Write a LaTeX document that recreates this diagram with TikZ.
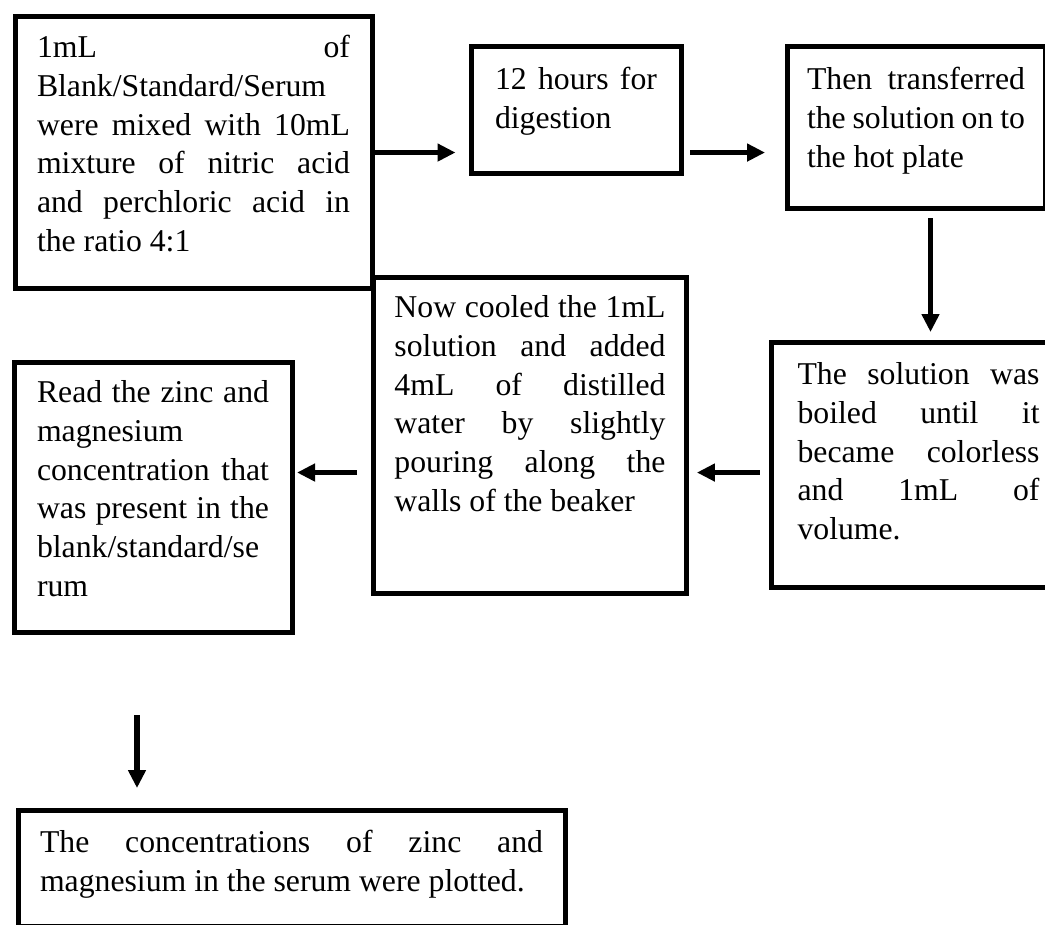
\documentclass[tikz,border=0pt]{standalone}
\usepackage{fontspec}
\setmainfont{Liberation Serif}
\usepackage{tikz}
\usetikzlibrary{arrows.meta,calc}
\newlength{\unitpx}
\setlength{\unitpx}{0.75pt}

\begin{document}
\begin{tikzpicture}[x=\unitpx,y=-\unitpx,
  stepbox/.style={draw,line width=3.75pt,anchor=north west,inner ysep=0pt,
    align=justify,font=\fontsize{23.8}{29.1}\selectfont},
  flow/.style={-{Triangle[length=13.5pt,width=12.75pt]},line width=4.1pt}]
  \useasboundingbox (0,0) rectangle (1045,924);
  \clip (0,0) rectangle (1045,924);
  \node[stepbox,text width=234.75pt,inner xsep=16.5pt,text height=30.4pt,text depth=172.9pt]
    (mix) at (12.5,14.5) {1mL of\linebreak Blank/Standard/Serum\\ were mixed with 10mL\linebreak mixture of nitric acid\linebreak and perchloric acid in\linebreak the ratio 4:1};
  \node[stepbox,text width=121.5pt,inner xsep=18pt,text height=31.9pt,text depth=62.6pt]
    (digest) at (468.5,44.5) {12 hours for\linebreak digestion};
  \node[stepbox,text width=163.5pt,inner xsep=15pt,text height=32.25pt,text depth=88.9pt]
    (hotplate) at (784.5,44) {Then transferred\linebreak the solution on to\linebreak the hot plate};
  \node[stepbox,text width=181.5pt,inner xsep=19.9pt,text height=31.9pt,text depth=151.9pt]
    (boil) at (768.5,339.5) {The solution was\linebreak boiled until it\linebreak became colorless\linebreak and 1mL of\linebreak volume.};
  \node[stepbox,text width=203.25pt,inner xsep=16.1pt,text height=30.4pt,text depth=206.6pt]
    (cool) at (370.5,274.5) {Now cooled the 1mL\linebreak solution and added\linebreak 4mL of distilled\linebreak water by slightly\linebreak pouring along the\linebreak walls of the beaker};
  \node[stepbox,text width=174pt,inner xsep=17.25pt,text height=30.4pt,text depth=172.1pt]
    (read) at (11.5,359.5) {Read the zinc and\linebreak magnesium\\ concentration that\linebreak was present in the\linebreak blank/standard/se\\ rum};
  \node[stepbox,text width=377.25pt,inner xsep=16.5pt,text height=31.9pt,text depth=55.5pt]
    (plot) at (15.5,807.5) {The concentrations of zinc and\linebreak magnesium in the serum were plotted.};

  \coordinate (down) at ($(hotplate.south)+(14.5,0)$);
  \coordinate (back) at ($(boil.west)+(0,8)$);
  \coordinate (last) at (137,715);

  \draw[flow,shorten >=9.75pt] (mix.east) -- (mix.east -| digest.west);
  \draw[flow,shorten <=4.9pt,shorten >=14.6pt] (digest.east |- mix.east) -- (hotplate.west |- mix.east);
  \draw[flow,shorten <=5.6pt,shorten >=5.6pt] (down) -- (down |- boil.north);
  \draw[flow,shorten <=6.4pt,shorten >=5.6pt] (back) -- (back -| cool.east);
  \draw[flow,shorten <=10.1pt,shorten >=1.9pt] (back -| cool.west) -- (back -| read.east);
  \draw[flow,shorten >=14.6pt] (last) -- (last |- plot.north);
\end{tikzpicture}
\end{document}
